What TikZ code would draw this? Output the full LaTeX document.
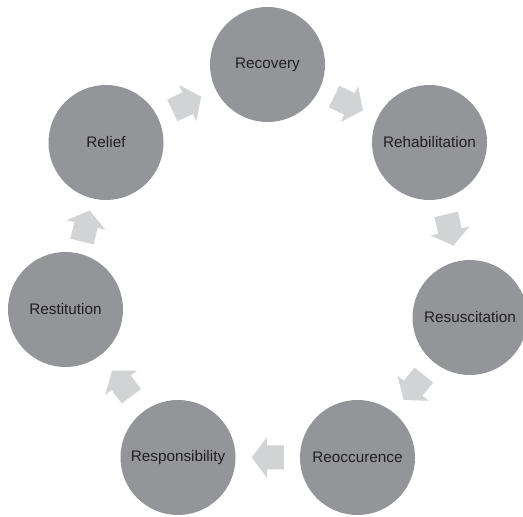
\documentclass[tikz,border=0pt]{standalone}
\usepackage{fontspec}
\setmainfont{Liberation Sans}
\usetikzlibrary{calc}
\definecolor{circgray}{HTML}{939598}
\definecolor{arrgray}{HTML}{D1D3D4}
\definecolor{txt}{HTML}{231F20}
\tikzset{
  stage/.style={circle, fill=circgray, draw=none, minimum size=115pt, inner sep=0pt,
    text=txt, font=\fontsize{15.3}{18}\selectfont},
  arrowfill/.style={fill=arrgray, draw=none}
}
\newcommand\blockarrow[2]{%
  \coordinate (m) at ($(#1)!0.5!(#2)$);
  \coordinate (t) at ($(m)!-16pt!(#2)$);
  \coordinate (h) at ($(m)!1pt!(#2)$);
  \coordinate (tip) at ($(m)!16pt!(#2)$);
  \fill[arrowfill] ($(t)!12pt!90:(#2)$) -- ($(h)!12pt!90:(#2)$) -- ($(h)!20pt!90:(#2)$) -- (tip)
    -- ($(h)!20pt!-90:(#2)$) -- ($(h)!12pt!-90:(#2)$) -- ($(t)!12pt!-90:(#2)$) -- cycle;
}
\begin{document}
\begin{tikzpicture}[x=1pt,y=1pt]
\useasboundingbox (0,0) rectangle (523,517);
\node[stage] (rec)  at (267.5,452.5) {Recovery};
\node[stage] (reh)  at (429.5,374.5) {Rehabilitation};
\node[stage] (res)  at (470,199.5) {Resuscitation};
\node[stage] (reo)  at (357.5,59.5) {Reoccurence};
\node[stage] (resp) at (178,59.5) {Responsibility};
\node[stage] (rest) at (65.5,207.5) {Restitution};
\node[stage] (rel)  at (106,374.5) {Relief};
\blockarrow{rec}{reh}
\blockarrow{reh}{res}
\blockarrow{res}{reo}
\blockarrow{reo}{resp}
\blockarrow{resp}{rest}
\blockarrow{rest}{rel}
\blockarrow{rel}{rec}
\end{tikzpicture}
\end{document}
